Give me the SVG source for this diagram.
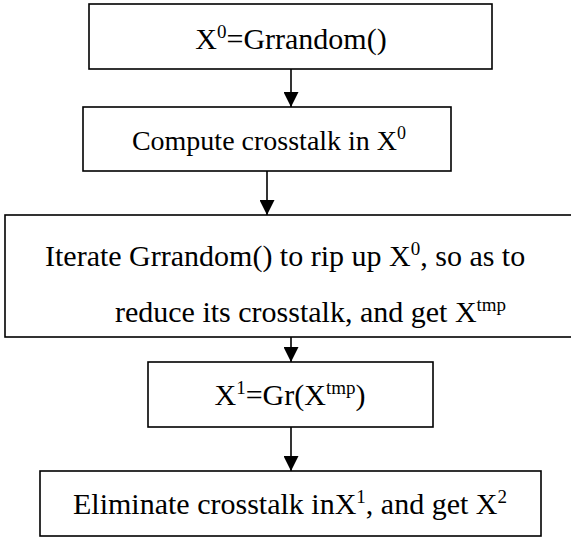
<svg xmlns="http://www.w3.org/2000/svg" width="571" height="538" viewBox="0 0 571 538">
  <style>
    .box { fill: #ffffff; stroke: #000000; stroke-width: 1.6; }
    .txt { font-family: "Liberation Serif", "Times New Roman", serif; font-size: 30px; fill: #000000; }
    .sup { font-size: 19px; }
    .conn { stroke: #000000; stroke-width: 1.6; fill: none; }
  </style>
  <defs>
    <marker id="arrow" markerUnits="userSpaceOnUse" markerWidth="15" markerHeight="15" refX="15" refY="7.5" orient="auto">
      <path d="M0,0 L15,7.5 L0,15 Z" fill="#000000"/>
    </marker>
  </defs>
  <rect x="0" y="0" width="571" height="538" fill="#ffffff"/>

  <g id="connectors">
    <line class="conn" x1="291" y1="69" x2="291" y2="107" marker-end="url(#arrow)"/>
    <line class="conn" x1="267" y1="171" x2="267" y2="215" marker-end="url(#arrow)"/>
    <line class="conn" x1="291" y1="337" x2="291" y2="362" marker-end="url(#arrow)"/>
    <line class="conn" x1="291" y1="427" x2="291" y2="471" marker-end="url(#arrow)"/>
  </g>

  <g id="node1">
    <rect class="box" x="89" y="4" width="403" height="65"/>
    <text class="txt" x="291" y="49" text-anchor="middle">X<tspan class="sup" dy="-11">0</tspan><tspan dy="11">=Grrandom()</tspan></text>
  </g>

  <g id="node2">
    <rect class="box" x="83" y="107" width="368" height="64"/>
    <text class="txt" x="269" y="150" text-anchor="middle" style="font-size:28px">Compute crosstalk in X<tspan class="sup" dy="-11" style="font-size:18px">0</tspan></text>
  </g>

  <g id="node3">
    <rect class="box" x="5" y="215" width="580" height="122"/>
    <text class="txt" x="45" y="266">Iterate Grrandom() to rip up X<tspan class="sup" dy="-11">0</tspan><tspan dy="11">, so as to</tspan></text>
    <text class="txt" x="115" y="322">reduce its crosstalk, and get X<tspan class="sup" dy="-11">tmp</tspan></text>
  </g>

  <g id="node4">
    <rect class="box" x="148" y="362" width="285" height="65"/>
    <text class="txt" x="290" y="405" text-anchor="middle">X<tspan class="sup" dy="-11">1</tspan><tspan dy="11">=Gr(X</tspan><tspan class="sup" dy="-11">tmp</tspan><tspan dy="11">)</tspan></text>
  </g>

  <g id="node5">
    <rect class="box" x="40" y="471" width="501" height="65"/>
    <text class="txt" x="290" y="514" text-anchor="middle">Eliminate crosstalk inX<tspan class="sup" dy="-11">1</tspan><tspan dy="11">, and get X</tspan><tspan class="sup" dy="-11">2</tspan></text>
  </g>
</svg>
